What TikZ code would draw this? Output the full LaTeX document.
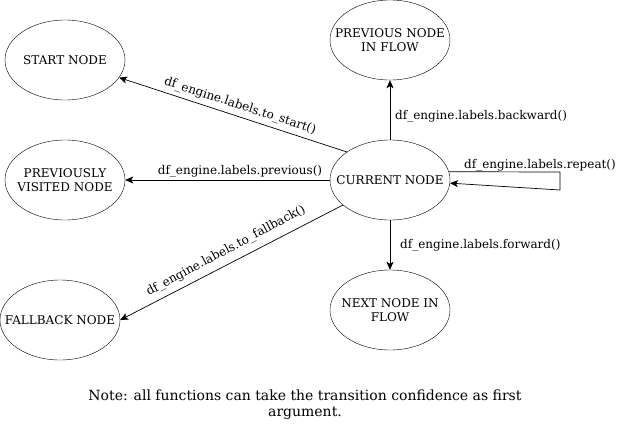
\documentclass[tikz,border=0pt]{standalone}
\usepackage{fontspec}
\setmainfont{DejaVu Serif}
\usetikzlibrary{shapes.geometric,arrows.meta}
\begin{document}
\begin{tikzpicture}[x=1pt,y=-1pt,
  state/.style={draw,ellipse,minimum width=120pt,minimum height=80pt,inner sep=0pt},
  statetext/.style={align=center,inner sep=0pt,font=\fontsize{12}{14}\selectfont},
  lbl/.style={inner sep=1pt,font=\fontsize{12}{14}\selectfont},
  arr/.style={-{Stealth[length=8pt,width=7pt,inset=2pt]},line width=0.7pt}]
\useasboundingbox[fill=white] (0,0) rectangle (617,423);
\node[state,label={[statetext]center:START NODE}] (start) at (65,60) {};
\node[state,label={[statetext]center:PREVIOUSLY\\VISITED NODE}] (prev) at (65,180) {};
\node[state,label={[statetext]center:FALLBACK NODE}] (fall) at (60,320) {};
\node[state,label={[statetext]center:PREVIOUS NODE\\IN FLOW}] (pflow) at (390,40) {};
\node[state,label={[statetext]center:CURRENT NODE}] (cur) at (390,180) {};
\node[state,label={[statetext]center:NEXT NODE IN\\FLOW}] (next) at (390,310) {};
\coordinate (loopA) at (560,172);
\coordinate (loopB) at (560,190);
\draw[arr] (cur.147) -- (start.-18);
\draw[arr] (cur.west) -- (prev.east);
\draw[arr] (cur.208) -- (fall.east);
\draw[arr] (cur.north) -- (pflow.south);
\draw[arr] (cur.south) -- (next.north);
\draw[arr] (cur.8) -- (loopA) -- (loopB) -- (cur.-3);
\node[lbl,rotate=-18] (l1) at (240,106) {df\_engine.labels.to\_start()};
\node[lbl] (l2) at (240,171) {df\_engine.labels.previous()};
\node[lbl,rotate=28] (l3) at (226,251) {df\_engine.labels.to\_fallback()};
\node[lbl,anchor=west] (l4) at (394,116) {df\_engine.labels.backward()};
\node[lbl,anchor=west] (l5) at (399,245) {df\_engine.labels.forward()};
\node[lbl] (l6) at (540,165) {df\_engine.labels.repeat()};
\node[align=center,font=\fontsize{14}{16}\selectfont] (note) at (305,405) {Note: all functions can take the transition confidence as first\\argument.};
\end{tikzpicture}
\end{document}
